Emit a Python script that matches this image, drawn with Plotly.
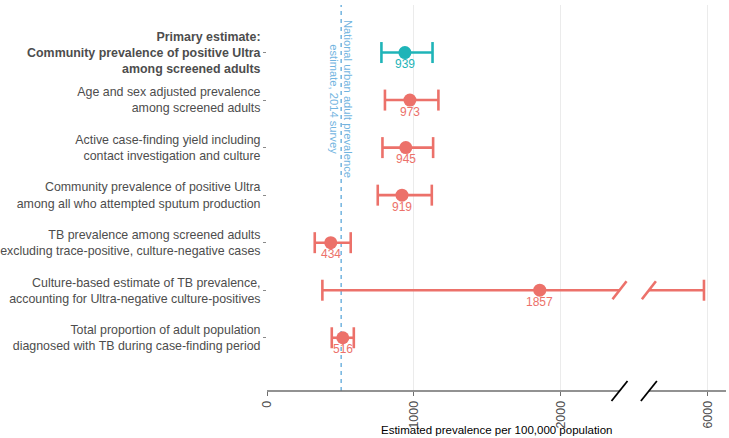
import plotly.graph_objects as go

# ---------------- data ----------------
labels = [
    "<b>Primary estimate:<br>Community prevalence of positive Ultra<br>among screened adults</b>",
    "Age and sex adjusted prevalence<br>among screened adults",
    "Active case-finding yield including<br>contact investigation and culture",
    "Community prevalence of positive Ultra<br>among all who attempted sputum production",
    "TB prevalence among screened adults<br>excluding trace-positive, culture-negative cases",
    "Culture-based estimate of TB prevalence,<br>accounting for Ultra-negative culture-positives",
    "Total proportion of adult population<br>diagnosed with TB during case-finding period",
]
estimates = [939, 973, 945, 919, 434, 1857, 516]
lower = [779, 803, 786, 754, 325, 377, 441]
upper = [1127, 1167, 1131, 1122, 570, 5975, 591]
primary = [True, False, False, False, False, False, False]

ref_value = 505
ref_text = "National urban adult prevalence<br>estimate, 2014 survey"

tick_values = [0, 1000, 2000, 6000]
tick_labels = ["0", "1000", "2000", "6000"]

BREAK_LO = 2400      # axis is cut between these two real values
BREAK_HI = 5600
X_MAX_REAL = 6125

# ---------------- style ----------------
TEAL = "#1FB4B8"
RED = "#EC716A"
BLUE = "#72B4DF"
GRAY_TXT = "#4D4D4D"
FONT = "Liberation Sans, Arial, sans-serif"
LW = 2.6


def disp(v):
    """Map a real value to the broken-axis display coordinate."""
    if v <= BREAK_LO:
        return v
    return v - (BREAK_HI - BREAK_LO) + 200


GAP_LO = disp(BREAK_LO)
GAP_HI = BREAK_LO + 200

n = len(labels)
ypos = [n - i for i in range(n)]

fig = go.Figure()
shapes = []
annotations = []

for i in range(n):
    col = TEAL if primary[i] else RED
    y = ypos[i]
    lo, hi = lower[i], upper[i]
    if hi > BREAK_LO:
        xs = [disp(lo), GAP_LO, None, GAP_HI, disp(hi)]
        ys = [y, y, None, y, y]
        for xa in (GAP_LO, GAP_HI):
            shapes.append(dict(type="line", xref="x", yref="y",
                               xsizemode="pixel", xanchor=xa, x0=-7, x1=7,
                               ysizemode="pixel", yanchor=y, y0=-9, y1=9,
                               line=dict(color=col, width=LW)))
    else:
        xs = [disp(lo), disp(hi)]
        ys = [y, y]
    fig.add_trace(go.Scatter(x=xs, y=ys, mode="lines",
                             line=dict(color=col, width=LW),
                             hoverinfo="skip", showlegend=False))
    for xc in (disp(lo), disp(hi)):
        shapes.append(dict(type="line", xref="x", yref="y",
                           x0=xc, x1=xc,
                           ysizemode="pixel", yanchor=y, y0=-10.5, y1=10.5,
                           line=dict(color=col, width=LW)))
    annotations.append(dict(x=disp(estimates[i]), y=y, xref="x", yref="y",
                            text=str(estimates[i]), showarrow=False,
                            yanchor="middle", xanchor="center", yshift=-11.5,
                            font=dict(size=12, color=col, family=FONT)))

fig.add_trace(go.Scatter(
    x=[disp(v) for v in estimates], y=ypos, mode="markers",
    marker=dict(size=13, color=[TEAL if p else RED for p in primary]),
    showlegend=False, hoverinfo="skip"))

# reference line
shapes.append(dict(type="line", xref="x", yref="paper", x0=ref_value, x1=ref_value,
                   y0=0, y1=1, layer="below",
                   line=dict(color=BLUE, width=1.5, dash="4px,4px")))
annotations.append(dict(x=ref_value, y=0.756, xref="x", yref="paper",
                        text=ref_text, textangle=90, showarrow=False,
                        xanchor="center", yanchor="middle", align="center",
                        font=dict(size=11.2, color=BLUE, family=FONT)))

# broken x-axis line and slashes
shapes.append(dict(type="line", xref="x", yref="paper", x0=0, x1=GAP_LO, y0=0, y1=0,
                   line=dict(color="#6E6E6E", width=1.3)))
shapes.append(dict(type="line", xref="x", yref="paper", x0=GAP_HI, x1=disp(X_MAX_REAL),
                   y0=0, y1=0, line=dict(color="#6E6E6E", width=1.3)))
for xa in (GAP_LO, GAP_HI):
    shapes.append(dict(type="line", xref="x", yref="paper",
                       xsizemode="pixel", xanchor=xa, x0=-8, x1=8,
                       ysizemode="pixel", yanchor=0, y0=-10, y1=10,
                       line=dict(color="black", width=1.8)))

# axis title
annotations.append(dict(x=0.5, y=0, xref="paper", yref="paper", yshift=-39,
                        text="Estimated prevalence per 100,000 population",
                        showarrow=False, xanchor="center", yanchor="middle",
                        font=dict(size=11.5, color="black", family=FONT)))

fig.update_layout(
    width=729, height=438,
    margin=dict(l=267, r=3, t=5, b=47, autoexpand=False),
    paper_bgcolor="white", plot_bgcolor="white",
    font=dict(family=FONT, color=GRAY_TXT),
    shapes=shapes, annotations=annotations,
    xaxis=dict(range=[0, disp(X_MAX_REAL)], automargin=False,
               tickvals=[disp(v) for v in tick_values], ticktext=tick_labels,
               tickangle=-90, ticks="outside", ticklen=4, tickcolor="#6E6E6E",
               tickfont=dict(size=12.4, color=GRAY_TXT),
               showgrid=True, gridcolor="#EBEBEB", gridwidth=1,
               zeroline=False, showline=False, fixedrange=True),
    yaxis=dict(range=[-0.12, 8.0], tickvals=ypos, ticktext=labels, automargin=False,
               ticks="outside", ticklen=3, tickcolor="#8A8A8A",
               tickfont=dict(size=12.4, color=GRAY_TXT),
               showgrid=False, zeroline=False, showline=False, fixedrange=True),
)

fig.write_html("out.html", config={"displayModeBar": False},
               post_script="document.body.style.margin='0px';document.body.style.overflow='hidden';")
